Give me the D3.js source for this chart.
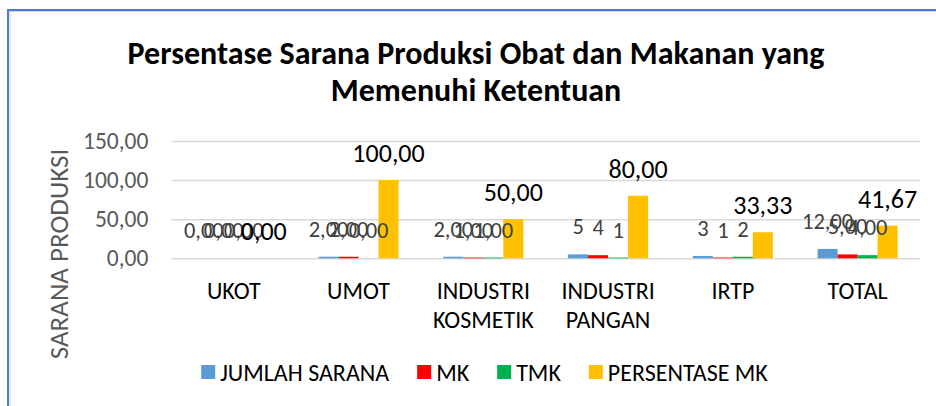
<!DOCTYPE html>
<html>
<head>
<meta charset="utf-8">
<script src="https://cdn.jsdelivr.net/npm/d3@7"></script>
<style>
    body { margin: 0; background: #fff; }
    text { font-family: Carlito, Calibri, Lato, sans-serif; }
</style>
</head>
<body>
<div id="chart-area"></div>
<script>

// categories and series
let categories = ["UKOT", "UMOT", "INDUSTRI KOSMETIK", "INDUSTRI PANGAN", "IRTP", "TOTAL"];
let seriesNames = ["JUMLAH SARANA", "MK", "TMK", "PERSENTASE MK"];
let jumlahSarana = [0, 2, 2, 5, 3, 12];
let mk = [0, 2, 1, 4, 1, 5];
let tmk = [0, 0, 1, 1, 2, 4];
let persentaseMk = [0, 100, 50, 80, 33.33, 41.67];
// decimals used in the count labels (pangan and irtp are shown without decimals)
let labelDecimals = [2, 2, 2, 0, 0, 2];
let yTicks = [0, 50, 100, 150];
let colors = ["#5b9bd5", "#ff0000", "#00b050", "#ffc000"];


class BarChart {

    constructor(parentElement) {
        this.parentElement = parentElement;
        this.initVis();
    }

    initVis() {
        let vis = this;

        vis.width = 936;
        vis.height = 406;

        vis.svg = d3.select("#" + vis.parentElement).append("svg")
            .attr("width", vis.width)
            .attr("height", vis.height);

        // chart border (only left and top show in the picture)
        vis.svg.append("rect")
            .attr("x", 8).attr("y", 10)
            .attr("width", 1000).attr("height", 1000)
            .attr("fill", "none")
            .attr("stroke", "#4f7bc6")
            .attr("stroke-width", 2);

        vis.svg.append("rect")
            .attr("x", 10).attr("y", 11.5)
            .attr("width", 1000).attr("height", 1000)
            .attr("fill", "none")
            .attr("stroke", "#c5d5ef")
            .attr("stroke-width", 1);

        // title
        vis.svg.append("text")
            .attr("x", 476).attr("y", 64)
            .attr("text-anchor", "middle")
            .attr("font-size", 32).attr("font-weight", "bold")
            .text("Persentase Sarana Produksi Obat dan Makanan yang");
        vis.svg.append("text")
            .attr("x", 476).attr("y", 101)
            .attr("text-anchor", "middle")
            .attr("font-size", 32).attr("font-weight", "bold")
            .text("Memenuhi Ketentuan");

        vis.x0 = d3.scaleBand()
            .domain(categories)
            .range([171.4, 920])
            .paddingInner(0);

        vis.x1 = d3.scaleBand()
            .domain(seriesNames)
            .range([0, vis.x0.bandwidth()])
            .paddingInner(0)
            .paddingOuter(1.12);

        vis.y = d3.scaleLinear()
            .domain([0, 150])
            .range([258.3, 141]);

        vis.wrangleData();
    }

    wrangleData() {
        let vis = this;

        let seriesValues = [jumlahSarana, mk, tmk, persentaseMk];
        vis.bars = [];
        categories.forEach((c, i) => {
            seriesNames.forEach((s, j) => {
                vis.bars.push({cat: c, series: s, idx: j, value: seriesValues[j][i], dec: labelDecimals[i]});
            });
        });

        vis.updateVis();
    }

    updateVis() {
        let vis = this;

        let fmt = (v, dec) => d3.format("." + dec + "f")(v).replace(".", ",");

        // gridlines + y labels
        let yAxis = d3.axisLeft(vis.y)
            .tickValues(yTicks)
            .tickSize(-(920 - 171.4))
            .tickPadding(23)
            .tickFormat(d => fmt(d, 2));

        let gy = vis.svg.append("g")
            .attr("transform", "translate(171.4,0)")
            .call(yAxis);
        gy.select(".domain").remove();
        gy.selectAll("line").attr("stroke", "#d9d9d9").attr("stroke-width", 1.5);
        gy.selectAll("text")
            .attr("fill", "#595959")
            .attr("font-size", 23.5);

        // y axis title
        vis.svg.append("text")
            .attr("transform", "translate(68,254) rotate(-90)")
            .attr("text-anchor", "middle")
            .attr("fill", "#595959")
            .attr("font-size", 27)
            .text("SARANA PRODUKSI");

        // bars
        vis.svg.append("g").selectAll("rect")
            .data(vis.bars)
            .enter().append("rect")
            .attr("x", d => vis.x0(d.cat) + vis.x1(d.series))
            .attr("y", d => vis.y(d.value))
            .attr("width", vis.x1.bandwidth())
            .attr("height", d => vis.y(0) - vis.y(d.value))
            .attr("fill", d => colors[d.idx]);

        // data labels
        vis.svg.append("g").selectAll("text")
            .data(vis.bars)
            .enter().append("text")
            .attr("x", d => vis.x0(d.cat) + vis.x1(d.series) + vis.x1.bandwidth() / 2)
            .attr("y", d => vis.y(d.value) - (d.idx === 3 ? 18 : 20))
            .attr("text-anchor", "middle")
            .attr("font-size", d => d.idx === 3 ? 26 : 22.5)
            .attr("fill", d => d.idx === 3 ? "#000" : "#404040")
            .text(d => d.idx === 3 ? fmt(d.value, 2) : fmt(d.value, d.dec));

        // category labels, one word per line
        let cats = vis.svg.append("g").selectAll("text")
            .data(categories)
            .enter().append("text")
            .attr("text-anchor", "middle")
            .attr("font-size", 24)
            .attr("fill", "#000");
        cats.each(function (c) {
            let words = c.split(" ");
            let cx = vis.x0(c) + vis.x0.bandwidth() / 2;
            words.forEach((w, k) => {
                d3.select(this).append("tspan")
                    .attr("x", cx)
                    .attr("y", 299 + k * 29)
                    .text(w);
            });
        });

        // legend
        let legend = vis.svg.append("g");
        let xPos = 0;
        seriesNames.forEach((s, j) => {
            let item = legend.append("g").attr("transform", `translate(${xPos},0)`);
            item.append("rect")
                .attr("x", 0).attr("y", 365)
                .attr("width", 14).attr("height", 14)
                .attr("fill", colors[j]);
            let t = item.append("text")
                .attr("x", 19).attr("y", 381)
                .attr("font-size", 24)
                .attr("fill", "#000")
                .text(s);
            xPos += 19 + t.node().getComputedTextLength() + 28;
        });
        let legendWidth = xPos - 28;
        legend.attr("transform", `translate(${484.5 - legendWidth / 2},0)`);
    }
}

new BarChart("chart-area");
</script>
</body>
</html>
